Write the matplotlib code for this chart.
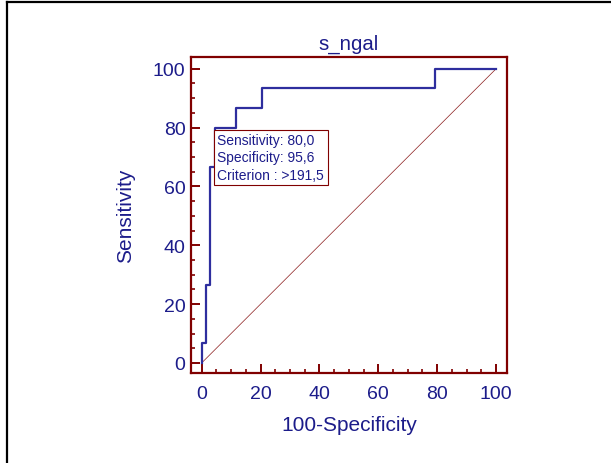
import matplotlib
matplotlib.use("Agg")
import matplotlib.pyplot as plt
from matplotlib.lines import Line2D
from matplotlib.ticker import MultipleLocator

plt.rcParams['font.family'] = ['Liberation Sans', 'DejaVu Sans']

# ROC operating points (100-Specificity, Sensitivity), in percent
fpr = [0, 0, 1.47, 2.94, 4.41, 11.76, 20.59, 79.41, 100]
tpr = [0, 6.67, 26.67, 66.67, 80.0, 86.67, 93.33, 100, 100]

title = "s_ngal"
xlabel = "100-Specificity"
ylabel = "Sensitivity"
crit_sens = "80,0"
crit_spec = "95,6"
crit_value = ">191,5"
crit_point = (4.41, 80.0)
ticks = [0, 20, 40, 60, 80, 100]

maroon = "#800000"
navy = "#1c1c8a"
curve = "#2e2e9e"

fig = plt.figure(figsize=(6.11, 4.64), dpi=100)
ax = fig.add_axes([0.3126, 0.1946, 0.5167, 0.6804])

# reference diagonal
ax.plot([0, 100], [0, 100], color="#8a1a1a", lw=0.5, zorder=2)
# ROC curve drawn as a staircase
ax.plot(fpr, tpr, drawstyle="steps-post", color=curve, lw=1.6, zorder=3)

ax.set_xlim(-3.6, 103.6)
ax.set_ylim(-3.3, 104)
ax.set_xticks(ticks)
ax.set_yticks(ticks)
ax.xaxis.set_minor_locator(MultipleLocator(5))
ax.yaxis.set_minor_locator(MultipleLocator(5))
ax.tick_params(which="both", direction="in", color=maroon, top=False, right=False)
ax.tick_params(which="major", length=6.5, width=1.4, labelsize=14,
               labelcolor=navy)
ax.tick_params(axis="x", which="major", pad=9)
ax.tick_params(axis="y", which="major", pad=4)
ax.tick_params(which="minor", length=3.2, width=1.2)
for s in ax.spines.values():
    s.set_color(maroon)
    s.set_linewidth(1.6)

ax.set_title(title, fontsize=14.7, color=navy, pad=6)
ax.set_xlabel(xlabel, fontsize=15, color=navy, labelpad=9)
ax.set_ylabel(ylabel, fontsize=15, color=navy, labelpad=13)

ax.annotate(f"Sensitivity: {crit_sens}\nSpecificity: {crit_spec}\nCriterion : {crit_value}",
            xy=crit_point, xytext=(2, -4), textcoords="offset points",
            ha="left", va="top", fontsize=10, color=navy, linespacing=1.3,
            bbox=dict(boxstyle="square,pad=0.25", fc="white", ec=maroon, lw=0.8),
            zorder=5)

# outer frame of the figure
W, H = 611, 464
fig.add_artist(Line2D([7 / W, 1.0], [1 - 3 / H, 1 - 3 / H], color="black", lw=1.6,
                      transform=fig.transFigure))
fig.add_artist(Line2D([7 / W, 7 / W], [0.0, 1 - 3 / H], color="black", lw=1.6,
                      transform=fig.transFigure))

fig.savefig("out.png", dpi=100)
